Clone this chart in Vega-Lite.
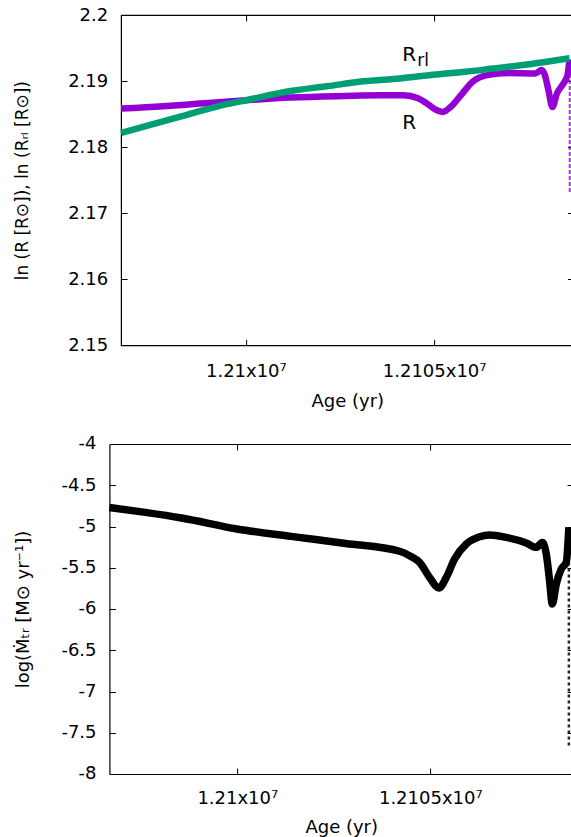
{
  "$schema": "https://vega.github.io/schema/vega-lite/v6.json",
  "padding": {"left": 12.1, "top": 5, "right": 0, "bottom": 0},
  "background": "white",
  "spacing": 24,
  "config": {
    "font": "DejaVu Sans",
    "view": {"stroke": "black", "strokeWidth": 1.2},
    "axis": {
      "domain": false, "grid": false,
      "labelFont": "DejaVu Sans", "labelFontSize": 18, "labelColor": "black",
      "titleFont": "DejaVu Sans", "titleFontSize": 17, "titleFontWeight": "normal", "titleColor": "black",
      "tickColor": "black", "tickWidth": 1, "tickSize": -6,
      "domainColor": "black", "domainWidth": 1.2,
      "labelOverlap": false, "labelFlush": false
    }
  },
  "datasets": {
    "green": [
      {"age": 12096687, "value": 2.18214}, {"age": 12097318, "value": 2.18315}, {"age": 12098282, "value": 2.18467},
      {"age": 12099251, "value": 2.18618}, {"age": 12100005, "value": 2.18709}, {"age": 12101184, "value": 2.1885},
      {"age": 12102151, "value": 2.18921}, {"age": 12103120, "value": 2.18996}, {"age": 12104087, "value": 2.1904},
      {"age": 12105053, "value": 2.1910}, {"age": 12105823, "value": 2.1914}, {"age": 12106503, "value": 2.19185},
      {"age": 12107469, "value": 2.19252}, {"age": 12107947, "value": 2.1929}, {"age": 12108593, "value": 2.19345}
    ],
    "purple": [
      {"age": 12096687, "value": 2.18583}, {"age": 12097801, "value": 2.18618}, {"age": 12098768, "value": 2.18659},
      {"age": 12100005, "value": 2.18709}, {"age": 12101184, "value": 2.1875}, {"age": 12102637, "value": 2.18774},
      {"age": 12103603, "value": 2.18784}, {"age": 12104182, "value": 2.18784}, {"age": 12104570, "value": 2.1874},
      {"age": 12104859, "value": 2.1864}, {"age": 12105027, "value": 2.1857}, {"age": 12105226, "value": 2.18532},
      {"age": 12105441, "value": 2.1861}, {"age": 12105730, "value": 2.188}, {"age": 12106020, "value": 2.1899},
      {"age": 12106407, "value": 2.1909}, {"age": 12106986, "value": 2.19122}, {"age": 12107682, "value": 2.19115},
      {"age": 12107857, "value": 2.19168}, {"age": 12107934, "value": 2.191}, {"age": 12108035, "value": 2.1886},
      {"age": 12108141, "value": 2.18607}, {"age": 12108258, "value": 2.1881}, {"age": 12108433, "value": 2.18962},
      {"age": 12108539, "value": 2.19087}, {"age": 12108593, "value": 2.1933}
    ],
    "spikeTop": [{"age": 12108600, "lo": 2.1732, "hi": 2.193}],
    "labelsMain": [
      {"age": 12104150, "value": 2.1931, "label": "R"},
      {"age": 12104150, "value": 2.1828, "label": "R"}
    ],
    "labelsSub": [{"age": 12104549, "value": 2.19228, "label": "rl"}],
    "black": [
      {"age": 12096687, "value": -4.77}, {"age": 12097617, "value": -4.829}, {"age": 12098557, "value": -4.897},
      {"age": 12099992, "value": -5.03}, {"age": 12101389, "value": -5.12}, {"age": 12102806, "value": -5.205},
      {"age": 12104205, "value": -5.3}, {"age": 12104464, "value": -5.354}, {"age": 12104723, "value": -5.435},
      {"age": 12104982, "value": -5.617}, {"age": 12105223, "value": -5.745}, {"age": 12105415, "value": -5.617},
      {"age": 12105630, "value": -5.394}, {"age": 12105933, "value": -5.212}, {"age": 12106277, "value": -5.124},
      {"age": 12106536, "value": -5.103}, {"age": 12106969, "value": -5.132}, {"age": 12107487, "value": -5.2},
      {"age": 12107746, "value": -5.253}, {"age": 12107902, "value": -5.193}, {"age": 12108005, "value": -5.333},
      {"age": 12108091, "value": -5.657}, {"age": 12108161, "value": -5.94}, {"age": 12108264, "value": -5.697},
      {"age": 12108394, "value": -5.515}, {"age": 12108523, "value": -5.435}, {"age": 12108591, "value": -5.01}
    ],
    "spikeBottom": [{"age": 12108591, "lo": -7.656, "hi": -5.45}]
  },
  "vconcat": [
    {
      "width": 452.4,
      "height": 330.3,
      "layer": [
        {
          "data": {"name": "purple"},
          "mark": {"type": "line", "color": "#9400d3", "strokeWidth": 6.5, "interpolate": "monotone"},
          "encoding": {
            "x": {"field": "age", "type": "quantitative",
              "scale": {"domain": [12096687, 12108700], "nice": false, "zero": false},
              "axis": {"orient": "bottom", "values": [12100000, 12105000],
                "labelExpr": "format(datum.value/1e7, '.5~f') + 'x10⁷'",
                "labelBaseline": "alphabetic", "labelPadding": 37,
                "title": "Age (yr)", "titleFontSize": 18, "titleBaseline": "alphabetic", "titleY": 61}},
            "y": {"field": "value", "type": "quantitative",
              "scale": {"domain": [2.15, 2.2], "nice": false, "zero": false},
              "axis": {"orient": "left", "values": [2.15, 2.16, 2.17, 2.18, 2.19, 2.2],
                "labelExpr": "'' + datum.value", "labelPadding": 19.4,
                "title": "ln (R [R⊙]), ln (Rᵣₗ [R⊙])", "titlePadding": 36.3}}
          }
        },
        {
          "data": {"name": "green"},
          "mark": {"type": "line", "color": "#009e73", "strokeWidth": 6.5, "interpolate": "monotone"},
          "encoding": {
            "x": {"field": "age", "type": "quantitative",
              "axis": {"orient": "top", "values": [12100000, 12105000], "labels": false, "title": null}},
            "y": {"field": "value", "type": "quantitative",
              "axis": {"orient": "right", "values": [2.15, 2.16, 2.17, 2.18, 2.19, 2.2], "labels": false, "title": null}}
          }
        },
        {
          "data": {"name": "spikeTop"},
          "mark": {"type": "rule", "color": "#9400d3", "strokeWidth": 2, "strokeDash": [4, 2], "opacity": 0.8},
          "encoding": {
            "x": {"field": "age", "type": "quantitative", "axis": null},
            "y": {"field": "lo", "type": "quantitative", "axis": null},
            "y2": {"field": "hi"}
          }
        },
        {
          "data": {"name": "labelsMain"},
          "mark": {"type": "text", "align": "left", "baseline": "alphabetic", "fontSize": 20, "font": "DejaVu Sans", "color": "black"},
          "encoding": {
            "x": {"field": "age", "type": "quantitative", "axis": null},
            "y": {"field": "value", "type": "quantitative", "axis": null},
            "text": {"field": "label"}
          }
        },
        {
          "data": {"name": "labelsSub"},
          "mark": {"type": "text", "align": "left", "baseline": "alphabetic", "fontSize": 17, "font": "DejaVu Sans", "color": "black"},
          "encoding": {
            "x": {"field": "age", "type": "quantitative", "axis": null},
            "y": {"field": "value", "type": "quantitative", "axis": null},
            "text": {"field": "label"}
          }
        }
      ],
      "resolve": {"axis": {"x": "independent", "y": "independent"}}
    },
    {
      "width": 452.0,
      "height": 330,
      "view": {"stroke": null},
      "layer": [
        {
          "data": {"name": "black"},
          "mark": {"type": "line", "color": "black", "strokeWidth": 7.5, "interpolate": "monotone", "clip": false},
          "encoding": {
            "x": {"field": "age", "type": "quantitative",
              "scale": {"domain": [12096687, 12108700], "range": [-11.7, 452.0], "nice": false, "zero": false},
              "axis": {"orient": "bottom", "domain": true, "values": [12100000, 12105000],
                "labelExpr": "format(datum.value/1e7, '.5~f') + 'x10⁷'",
                "labelBaseline": "alphabetic", "labelPadding": 36,
                "title": "Age (yr)", "titleFontSize": 18, "titleBaseline": "alphabetic", "titleY": 58.4}},
            "y": {"field": "value", "type": "quantitative",
              "scale": {"domain": [-8, -4], "nice": false, "zero": false},
              "axis": {"orient": "left", "domain": true, "offset": 11.7, "values": [-8, -7.5, -7, -6.5, -6, -5.5, -5, -4.5, -4],
                "labelExpr": "'' + datum.value", "labelPadding": 19.4,
                "title": "log(Ṁₜᵣ [M⊙ yr⁻¹])", "titleFontSize": 18, "titlePadding": 28.4}}
          }
        },
        {
          "data": {"name": "spikeBottom"},
          "mark": {"type": "rule", "color": "black", "strokeWidth": 2.5, "strokeDash": [3, 3], "opacity": 0.85},
          "encoding": {
            "x": {"field": "age", "type": "quantitative",
              "axis": {"orient": "top", "domain": true, "values": [12100000, 12105000], "labels": false, "title": null}},
            "y": {"field": "lo", "type": "quantitative",
              "axis": {"orient": "right", "domain": true, "values": [-8, -7.5, -7, -6.5, -6, -5.5, -5, -4.5, -4], "labels": false, "title": null}},
            "y2": {"field": "hi"}
          }
        }
      ],
      "resolve": {"axis": {"x": "independent", "y": "independent"}}
    }
  ]
}
